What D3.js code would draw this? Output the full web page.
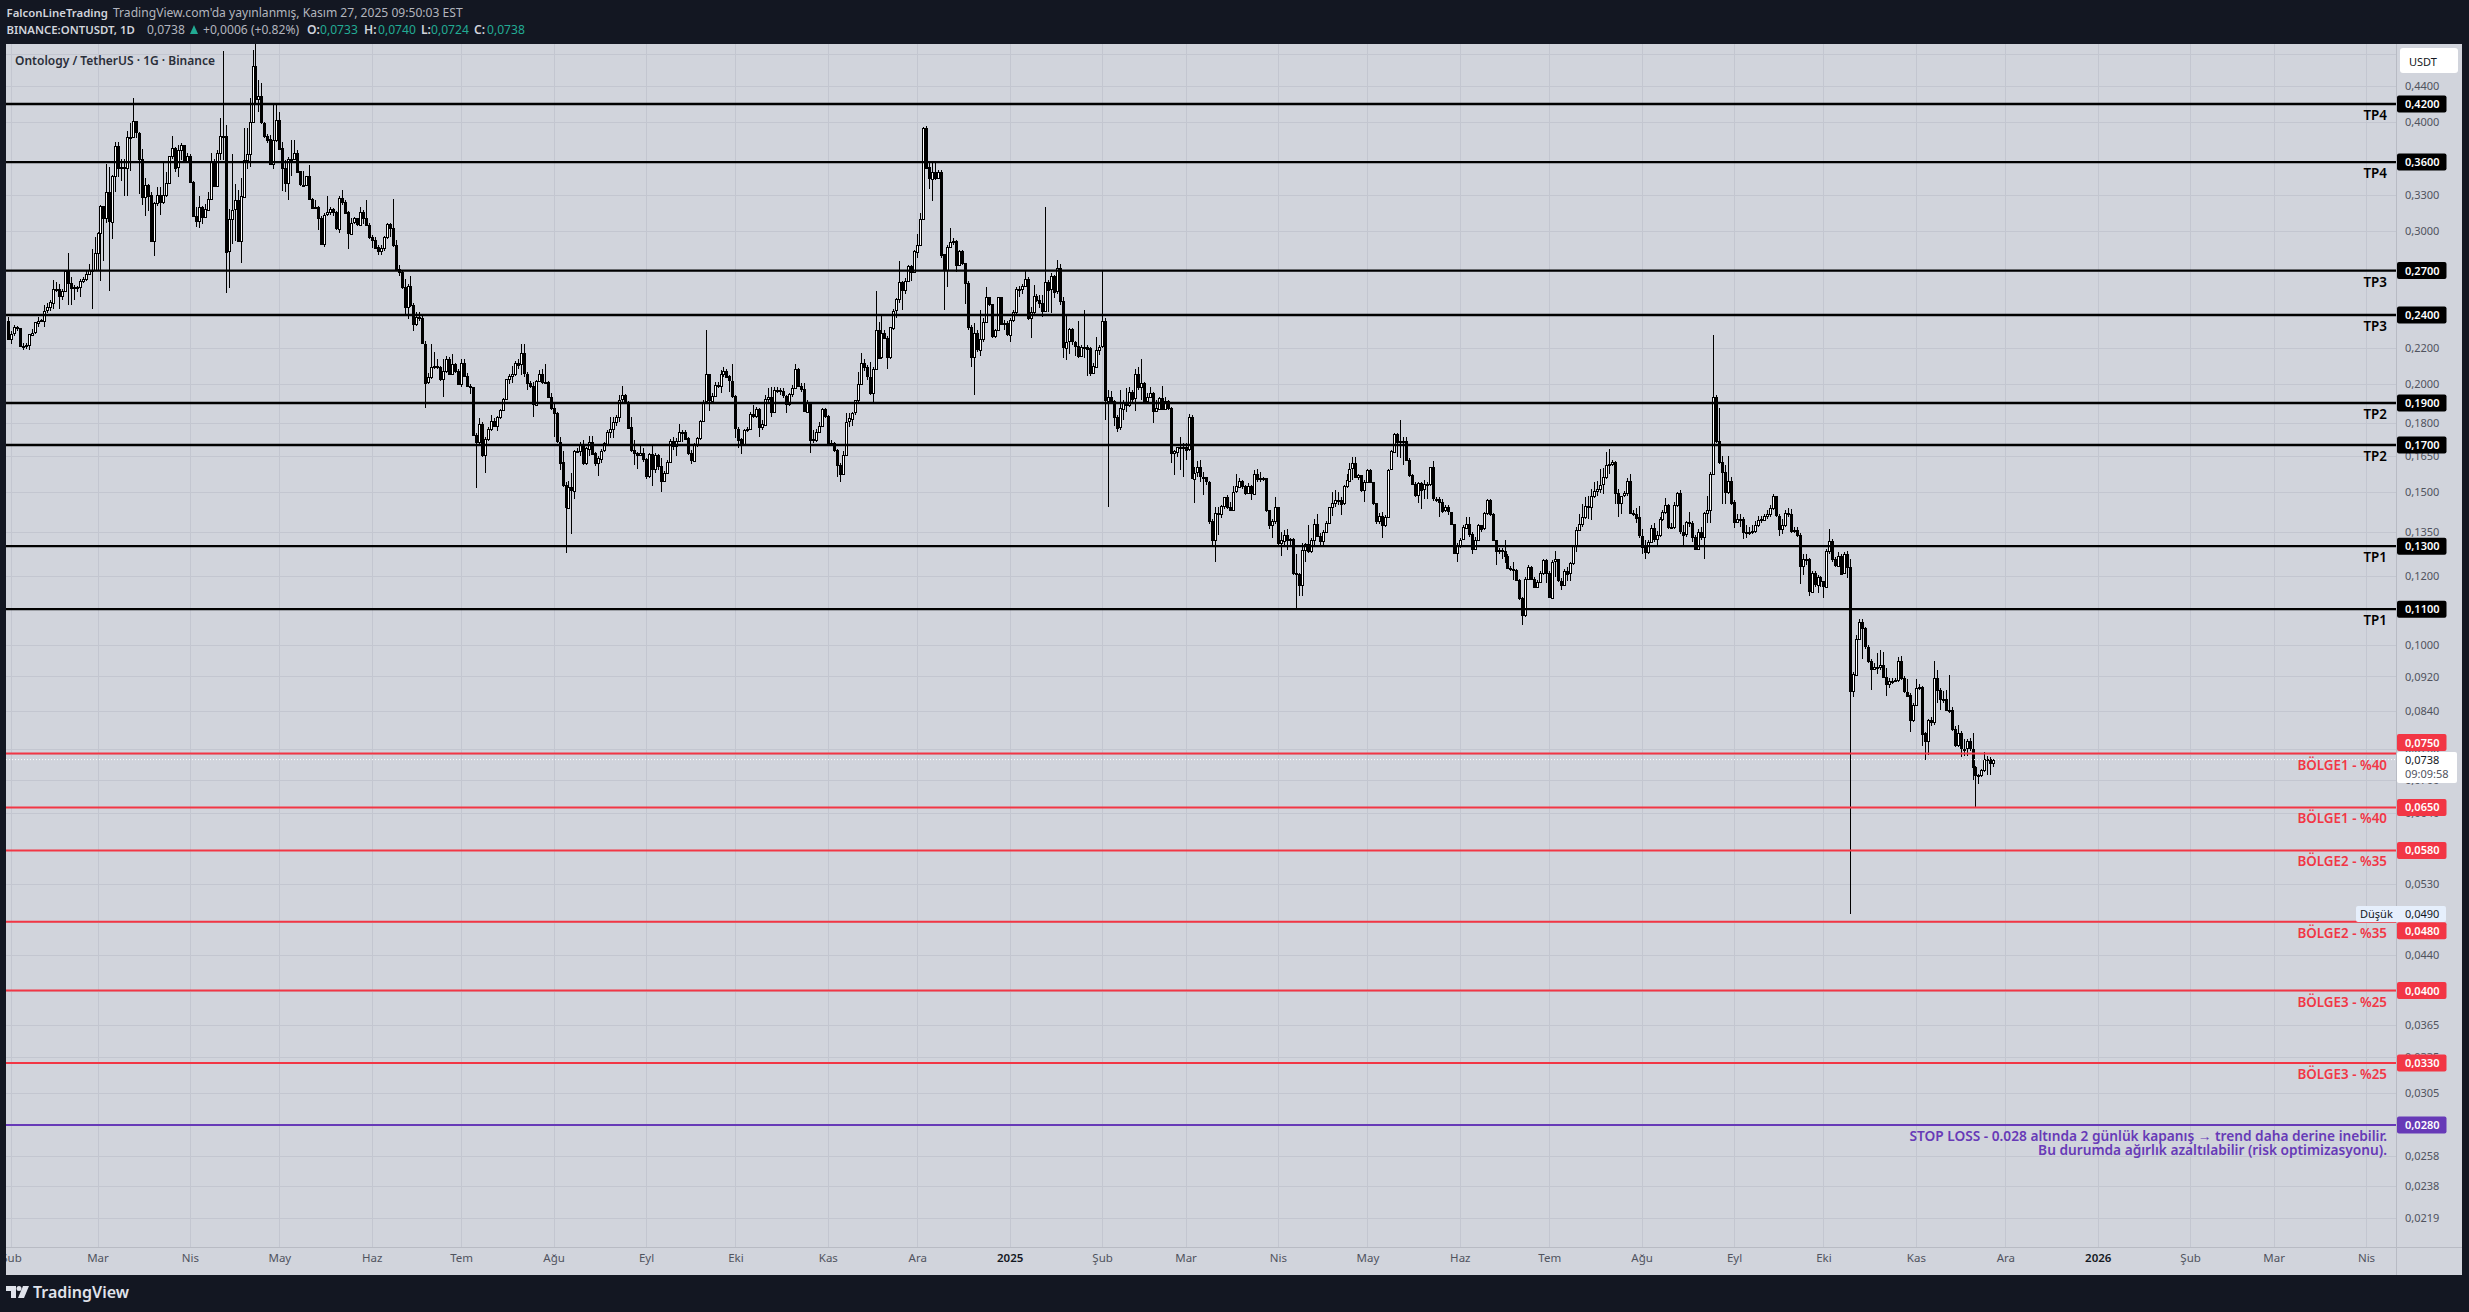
<!DOCTYPE html>
<html>
<head>
<meta charset="utf-8">
<script src="https://cdnjs.cloudflare.com/ajax/libs/d3/7.8.5/d3.min.js"></script>
<style>
  html, body { margin: 0; padding: 0; background: #131722; }
  svg { display: block; }
  text { font-family: "Noto Sans", sans-serif; }
</style>
</head>
<body>
<svg id="chart" width="2469" height="1312"></svg>
<script>
// daily ONT/USDT candles, prices in 0.0001 USDT, first candle is 2024-01-31
const firstOpen = 2365;
const closes = [
2255,2285,2322,2318,2212,2212,2217,2281,2291,2353,
2363,2367,2428,2450,2483,2574,2569,2525,2558,2694,
2610,2578,2582,2582,2624,2640,2677,2707,2699,2827,
2982,3202,3105,3325,3077,3472,3758,3548,3553,3543,
3848,3848,4011,3893,3633,3287,3392,3297,2920,3227,
3297,3237,3297,3407,3658,3738,3548,3713,3763,3603,
3663,3417,3122,3082,3197,3112,3177,3267,3603,3382,
3693,3863,3863,2842,3097,3172,3252,2920,3287,3623,
3678,4003,4640,4255,4285,3998,3863,3826,3583,3818,
4028,3733,3543,3407,3633,3633,3693,3513,3392,3392,
3472,3267,3192,3192,3102,2899,3132,3152,3177,3152,
3020,3277,3242,3152,2982,3067,3102,3052,3157,3107,
3047,2952,2932,2872,2842,2867,2952,3052,3022,2887,
2712,2687,2582,2450,2592,2462,2343,2387,2380,2225,
2007,2034,2090,2097,2090,2025,2070,2135,2053,2110,
2070,2002,2115,2043,1989,1982,1745,1712,1797,1657,
1727,1772,1812,1789,1832,1865,1919,2025,2043,2053,
2115,2103,
2168,2055,2005,1988,1893,2016,2055,2010,2010,1932,
1875,1849,1715,1624,1528,1440,1521,1508,1675,1675,
1700,1620,1685,1715,1663,1620,1642,1675,1708,1761,
1776,1808,1832,1918,1941,1907,1781,1677,1663,1656,
1663,1637,1563,1659,1594,1656,1609,1547,1580,1627,
1719,1697,1719,1761,1761,1730,1663,1631,1700,1730,
1812,1907,2050,1912,1935,1993,1993,2055,2070,2040,
2016,1935,1776,1725,1703,1771,1776,1846,1836,1870,
1781,1797,1923,1932,1857,1967,1967,1960,1937,1895,
1944,1976,2078,1988,1970,1857,1907,1725,1722,1761,
1787,1868,1836,1711,1708,1677,1612,1574,1656,1808,
1824,1852,1914,1999,2112,2088,2037,1952,2079,2307,
2144,2286,2256,2144,2322,2428,2503,2618,2562,2624,
2730,2687,2842,2893,3097,3946,3549,3445,3508,3451,
3508,2818,2701,2873,2912,2917,2737,2842,2752,2612,
2326,2146,2286,2190,2252,2358,2520,2473,2272,2309,
2520,2347,2347,2280,2370,2420,2571,2571,2594,2641,
2380,2420,2526,2500,
2478,2424,2620,2568,2660,2552,2715,2490,2202,2235,
2310,2235,2210,2152,2206,2206,2197,2055,2095,2190,
2206,2360,1912,1932,1912,1832,1780,1873,1907,1890,
1958,1924,2052,1983,2006,1912,1932,1953,1860,1873,
1927,1873,1912,1876,1665,1672,1693,1693,1693,1681,
1829,1556,1579,1602,1563,1560,1542,1390,1320,1418,
1415,1447,1482,1444,1433,1502,1523,1547,1525,1496,
1525,1496,1576,1556,1556,1556,1431,1375,1390,1441,
1310,1320,1340,1322,1325,1210,1208,1173,1288,1307,
1283,1320,1379,1336,1320,1351,1382,1441,1457,1469,
1469,1455,1523,1549,1597,1619,1560,1570,1509,1540,
1590,1540,1457,1390,1410,1375,1406,1592,1672,1752,
1716,1716,1720,1634,1572,1533,1489,1536,1509,1531,
1531,1602,1475,1475,1462,1428,1441,1425,1379,1277,
1305,1322,1366,1379,1342,1290,1322,1375,1362,1418,
1469,1415,1322,1283,1288,1283,1266,1227,1224,1220,
1188,1132,1083,1193,1230,1193,1168,1183,1210,1253,
1210,1135,1248,1255,1186,
1173,1217,1208,1242,1300,1357,1379,1405,1446,1442,
1486,1506,1514,1530,1560,1612,1617,1625,1498,1458,
1486,1495,1545,1421,1417,1403,1337,1300,1280,1316,
1365,1327,1340,1398,1424,1450,1367,1367,1450,1495,
1350,1340,1385,1382,1333,1290,1351,1333,1420,1431,
1576,1931,1719,1625,1584,1501,1547,1461,1386,1396,
1396,1347,1351,1351,1354,1375,1393,1396,1410,1417,
1438,1483,1410,1361,1375,1420,1417,1354,1357,1340,
1233,1255,1255,1152,1210,1174,1198,1184,1168,1284,
1317,1255,1236,1268,1210,1272,1229,885,925,1017,
1063,1045,996,959,940,944,944,949,919,902,
910,910,911,959,916,884,875,819,853,893,
895,791,775,819,815,916,888,866,866,841,
841,800,766,791,760,760,775,760,724,708,
707,717,739,740,733,738
];
const highs = [
2387,2302,2335,2330,2318,2230,2230,2285,2312,2358,
2387,2375,2462,2475,2495,2632,2622,2604,2569,2699,
2827,2652,2602,2592,2640,2652,2699,2744,2860,2952,
2990,3212,3207,3578,3558,3477,3800,3800,3633,3633,
3908,3998,4270,4003,3898,3723,3447,3397,3325,3237,
3367,3367,3603,3507,3663,3863,3748,3763,3783,3768,
3693,3683,3422,3197,3287,3207,3222,3327,3693,3633,
3713,4043,4840,3968,3177,3683,3397,3342,3447,3938,
3938,4268,4850,4925,4480,4440,4008,3880,3873,4190,
4200,4110,3798,3616,3653,3818,3818,3713,3518,3513,
3473,3568,3277,3252,3202,3122,3142,3287,3197,3187,
3165,3287,3342,3252,3165,3107,3112,3107,3192,3167,
3252,3067,2967,2952,2887,2887,2957,3067,3067,3267,
2927,2737,2707,2640,2604,2664,2475,2418,2418,2395,
2242,2060,2221,2173,2135,2097,2135,2155,2145,2163,
2115,2080,2135,2135,2060,1999,1985,1757,1827,1807,
1737,1781,1842,1827,1835,1872,1925,2027,2053,2097,
2125,2135,
2220,2220,2065,2016,2010,2020,2075,2078,2110,2016,
1952,1895,1857,1737,1672,1540,1547,1578,1677,1685,
1715,1722,1692,1741,1741,1670,1650,1682,1715,1768,
1832,1832,1840,1941,1988,1945,1912,1829,1722,1670,
1700,1685,1642,1663,1700,1663,1660,1642,1585,1634,
1725,1737,1730,1797,1771,1771,1737,1677,1708,1735,
1818,1917,2307,2055,1949,2010,2010,2075,2088,2078,
2045,2105,1941,1784,1730,1776,1784,1857,1890,1880,
1875,1816,1941,1976,1983,1985,1983,1976,1976,1941,
1952,1993,2110,2085,2002,2002,1917,1907,1768,1776,
1808,1875,1875,1840,1722,1715,1682,1620,1675,1849,
1849,1857,1918,2065,2170,2135,2100,2120,2090,2555,
2358,2395,2305,2270,2326,2437,2510,2770,2625,2648,
2742,2742,2855,2977,3145,3954,3962,3612,3587,3594,
3525,3525,2825,2890,3025,2940,2927,2855,2850,2752,
2625,2337,2347,2305,2433,2380,2582,2515,2470,2315,
2515,2515,2368,2362,2380,2433,2582,2594,2606,2695,
2655,2452,2600,2540,
2530,2530,3196,2634,2685,2672,2778,2745,2519,2395,
2316,2316,2240,2360,2216,2430,2216,2206,2111,2266,
2216,2695,2380,1965,1962,1915,1840,1965,1915,1980,
1983,1965,2080,2092,2135,2010,1950,1983,1958,1915,
1932,1987,1932,1915,1882,1678,1693,1736,1708,1708,
1845,1840,1605,1628,1634,1583,1556,1547,1397,1444,
1444,1451,1482,1489,1462,1523,1573,1556,1549,1527,
1536,1527,1590,1597,1583,1563,1556,1431,1397,1482,
1444,1351,1357,1360,1327,1327,1272,1210,1312,1312,
1375,1327,1397,1415,1345,1357,1390,1444,1502,1509,
1502,1482,1527,1576,1619,1648,1648,1576,1570,1549,
1597,1597,1542,1457,1418,1425,1412,1597,1678,1755,
1755,1815,1736,1736,1641,1576,1542,1542,1542,1549,
1542,1605,1628,1482,1482,1475,1451,1451,1410,1379,
1310,1327,1375,1403,1403,1351,1332,1379,1375,1425,
1475,1475,1418,1322,1293,1293,1322,1272,1232,1248,
1222,1193,1137,1199,1237,1232,1199,1188,1216,1258,
1258,1216,1253,1283,1258,
1195,1223,1229,1248,1305,1367,1417,1453,1480,1483,
1514,1542,1545,1595,1600,1668,1680,1633,1628,1514,
1468,1506,1557,1573,1431,1438,1446,1361,1320,1320,
1375,1382,1354,1403,1431,1476,1453,1382,1461,1501,
1509,1375,1389,1424,1389,1340,1361,1367,1424,1486,
1584,2273,1941,1877,1650,1612,1650,1560,1468,1417,
1417,1403,1375,1367,1375,1389,1410,1410,1417,1431,
1450,1491,1486,1417,1396,1431,1438,1435,1367,1367,
1347,1274,1274,1261,1217,1217,1204,1200,1186,1290,
1361,1325,1264,1280,1274,1280,1284,1258,930,1028,
1072,1072,1050,1000,963,954,978,986,983,940,
916,916,916,969,971,921,914,880,857,914,
902,898,795,823,827,959,937,893,886,888,
923,849,806,810,796,779,779,781,791,726,
711,719,753,745,744,740
];
const lows = [
2251,2221,2270,2302,2205,2188,2195,2188,2270,2285,
2322,2353,2322,2410,2428,2439,2550,2439,2495,2557,
2462,2462,2500,2550,2517,2610,2624,2677,2439,2699,
2699,2624,2772,3067,2558,2937,3325,3458,3428,3293,
3293,3513,3848,3833,3306,3212,3122,3165,2912,2807,
3207,3132,3222,3282,3397,3633,3508,3458,3616,3588,
3588,3403,3112,3032,3022,3057,3107,3165,3252,3367,
3368,3616,3616,2542,2578,2899,2920,2912,2757,3282,
3538,3553,3990,4190,4110,3985,3833,3790,3568,3538,
3798,3718,3332,3322,3257,3473,3616,3503,3378,3367,
3378,3257,3177,3177,3005,2887,2877,3122,3132,3122,
3007,2982,3217,3137,2857,2982,3057,3037,3037,3052,
3037,2937,2867,2862,2817,2817,2847,2937,2952,2877,
2699,2662,2570,2405,2375,2450,2300,2330,2363,2221,
1874,1999,2025,2080,2080,2017,1932,2060,2047,2050,
2060,1995,1982,2034,1982,1945,1739,1517,1704,1647,
1577,1719,1765,1781,1765,1822,1862,1915,2000,2005,
2043,2080,
2045,2037,1967,1976,1829,1890,2010,1997,1999,1928,
1865,1737,1708,1590,1521,1277,1438,1342,1474,1663,
1650,1612,1612,1650,1656,1606,1566,1620,1667,1700,
1730,1730,1790,1808,1897,1897,1776,1670,1612,1594,
1650,1627,1552,1556,1525,1577,1590,1501,1540,1577,
1620,1677,1650,1715,1715,1722,1656,1617,1627,1692,
1722,1808,1897,1860,1907,1932,1976,1949,2037,2032,
1958,1928,1730,1685,1660,1700,1760,1771,1824,1824,
1735,1768,1790,1907,1832,1857,1949,1941,1928,1852,
1885,1932,1976,1983,1958,1857,1849,1663,1708,1715,
1753,1781,1824,1705,1700,1670,1563,1540,1570,1650,
1784,1790,1840,1907,1993,2070,2020,1941,1907,2079,
2138,2138,2256,2079,2138,2307,2380,2480,2433,2537,
2620,2625,2682,2795,2940,3095,3540,3355,3250,3435,
3445,2795,2435,2585,2870,2890,2687,2730,2737,2473,
2307,2088,1941,2175,2155,2235,2347,2460,2256,2256,
2305,2337,2305,2270,2235,2358,2408,2515,2540,2582,
2368,2256,2408,2485,
2445,2390,2420,2420,2415,2508,2540,2465,2140,2130,
2165,2216,2150,2140,2185,2140,2040,2042,2052,2092,
2158,2197,1815,1441,1898,1788,1760,1769,1815,1856,
1882,1898,1862,1965,1915,1898,1907,1924,1803,1856,
1865,1865,1882,1865,1622,1570,1648,1590,1560,1634,
1672,1556,1457,1563,1542,1489,1527,1379,1305,1245,
1340,1400,1436,1433,1428,1431,1496,1516,1512,1489,
1502,1471,1523,1542,1542,1547,1425,1360,1327,1379,
1305,1266,1298,1288,1305,1205,1102,1140,1140,1248,
1277,1277,1305,1332,1305,1305,1345,1379,1410,1444,
1451,1412,1451,1516,1542,1549,1556,1549,1502,1462,
1536,1536,1451,1379,1379,1327,1368,1400,1590,1665,
1648,1641,1611,1628,1563,1527,1482,1457,1436,1475,
1475,1523,1467,1462,1406,1418,1425,1412,1375,1272,
1245,1293,1320,1362,1332,1272,1288,1320,1351,1357,
1412,1410,1320,1237,1272,1258,1242,1222,1216,1188,
1186,1127,1054,1078,1188,1188,1166,1163,1178,1205,
1178,1132,1137,1199,1183,
1158,1174,1184,1184,1236,1280,1354,1367,1396,1396,
1393,1476,1486,1498,1491,1552,1576,1609,1453,1403,
1417,1480,1483,1417,1410,1382,1330,1274,1255,1272,
1313,1316,1300,1333,1389,1417,1361,1361,1361,1442,
1344,1300,1333,1367,1316,1290,1286,1320,1258,1382,
1382,1568,1710,1617,1453,1453,1491,1450,1365,1382,
1367,1325,1327,1340,1344,1347,1367,1382,1389,1396,
1403,1431,1403,1337,1344,1367,1403,1347,1347,1333,
1176,1204,1236,1138,1152,1168,1147,1168,1132,1162,
1274,1248,1229,1236,1208,1210,1195,490,871,921,
1013,963,990,954,888,937,925,935,916,873,
893,902,906,906,911,880,871,795,815,853,
888,766,738,747,806,810,857,841,857,840,
835,796,764,764,744,745,745,756,700,650,
692,704,715,708,708,724
];

const levels = [4200,3600,2700,2400,1900,1700,1300,1100,750,650,580,480,400,330,280];
const levelNotes = ["TP4","TP4","TP3","TP3","TP2","TP2","TP1","TP1",
  "BÖLGE1 - %40","BÖLGE1 - %40","BÖLGE2 - %35","BÖLGE2 - %35","BÖLGE3 - %25","BÖLGE3 - %25",""];
const stopNote = ["STOP LOSS - 0.028 altında 2 günlük kapanış → trend daha derine inebilir.",
  "Bu durumda ağırlık azaltılabilir (risk optimizasyonu)."];

const priceTicks = [4800,4400,4000,3300,3000,2200,2000,1800,1650,1500,1350,1200,1000,920,840,760,700,640,530,440,365,335,305,258,238,219];
const monthDates = ["2024-02-01","2024-03-01","2024-04-01","2024-05-01","2024-06-01","2024-07-01","2024-08-01","2024-09-01","2024-10-01","2024-11-01","2024-12-01",
  "2025-01-01","2025-02-01","2025-03-01","2025-04-01","2025-05-01","2025-06-01","2025-07-01","2025-08-01","2025-09-01","2025-10-01","2025-11-01","2025-12-01",
  "2026-01-01","2026-02-01","2026-03-01","2026-04-01"];
const monthLabels = ["Şub","Mar","Nis","May","Haz","Tem","Ağu","Eyl","Eki","Kas","Ara",
  "2025","Şub","Mar","Nis","May","Haz","Tem","Ağu","Eyl","Eki","Kas","Ara",
  "2026","Şub","Mar","Nis"];

const BG = "#d1d4dc", DARK = "#131722", RED = "#f23645", PURPLE = "#673ab7", TEAL = "#22ab94";
const paneL = 6, paneR = 2396, paneT = 44, paneB = 1247, frameR = 2462, frameB = 1275;

const y = d3.scaleLog().domain([4200, 280]).range([104, 1125]);
const x = d3.scaleUtc().domain([new Date("2024-03-01"), new Date("2026-04-01")]).range([97.5, 2366]);
const startDay = new Date("2024-01-31");
const fmt = v => d3.format(".4f")(v / 10000).replace(".", ",");

const svg = d3.select("#chart");
svg.append("rect").attr("width", 2469).attr("height", 1312).attr("fill", DARK);
svg.append("rect").attr("x", paneL).attr("y", paneT).attr("width", frameR - paneL).attr("height", frameB - paneT).attr("fill", BG);
svg.append("defs").append("clipPath").attr("id", "pane").append("rect")
  .attr("x", paneL).attr("y", paneT).attr("width", paneR - paneL).attr("height", paneB - paneT);

// grid
const grid = svg.append("g").attr("shape-rendering", "crispEdges").attr("clip-path", "url(#pane)");
const gridTicks = priceTicks.concat(levels);
grid.selectAll(".h").data(gridTicks).join("line")
  .attr("x1", paneL).attr("x2", paneR)
  .attr("y1", d => Math.round(y(d)) + .5).attr("y2", d => Math.round(y(d)) + .5)
  .attr("stroke", "#c3c6d0");
grid.selectAll(".v").data(monthDates).join("line")
  .attr("x1", d => Math.round(x(new Date(d))) + .5).attr("x2", d => Math.round(x(new Date(d))) + .5)
  .attr("y1", paneT).attr("y2", paneB)
  .attr("stroke", "#c3c6d0");

// candles
const candles = closes.map((c, i) => ({
  x: Math.round(x(d3.utcDay.offset(startDay, i))),
  o: i ? closes[i - 1] : firstOpen, c, h: highs[i], l: lows[i]
}));
const plot = svg.append("g").attr("clip-path", "url(#pane)").attr("shape-rendering", "crispEdges");
plot.selectAll(".wick").data(candles).join("line")
  .attr("x1", d => d.x + .5).attr("x2", d => d.x + .5)
  .attr("y1", d => y(d.h)).attr("y2", d => y(d.l))
  .attr("stroke", "#000");
plot.selectAll(".body").data(candles).join("rect")
  .attr("x", d => d.x - .5).attr("width", 2)
  .attr("y", d => Math.round(y(Math.max(d.o, d.c))) + .5)
  .attr("height", d => Math.max(1, Math.round(Math.abs(y(d.o) - y(d.c)))))
  .attr("fill", d => d.c >= d.o ? "#fff" : "#000")
  .attr("stroke", "#000");

// last price dotted line
svg.append("line").attr("x1", paneL).attr("x2", paneR)
  .attr("y1", y(738)).attr("y2", y(738))
  .attr("stroke", "#fff").attr("stroke-dasharray", "1 2");

// drawn levels
const levelColor = d => d >= 1100 ? "#000" : d >= 330 ? RED : PURPLE;
svg.selectAll(".level").data(levels).join("line")
  .attr("x1", paneL).attr("x2", paneR)
  .attr("y1", d => y(d)).attr("y2", d => y(d))
  .attr("stroke", levelColor).attr("stroke-width", d => d >= 1100 ? 2.4 : 2);

svg.selectAll(".note").data(levels).join("text")
  .attr("x", 2387).attr("y", d => y(d) + 16)
  .attr("text-anchor", "end").attr("font-size", 13.4).attr("font-weight", 600)
  .attr("fill", levelColor)
  .text((d, i) => levelNotes[i]);
svg.selectAll(".stop").data(stopNote).join("text")
  .attr("x", 2387).attr("y", (d, i) => y(280) + 16 + i * 14)
  .attr("text-anchor", "end").attr("font-size", 13.7).attr("font-weight", 600)
  .attr("fill", PURPLE).text(d => d);

// price axis
svg.append("line").attr("x1", paneR + .5).attr("x2", paneR + .5).attr("y1", paneT).attr("y2", frameB).attr("stroke", "#b8bbc4");
const yAxis = d3.axisRight(y).tickValues(priceTicks).tickSize(0).tickPadding(0).tickFormat(fmt);
const yG = svg.append("g").attr("transform", `translate(2405,0)`).call(yAxis);
yG.select(".domain").remove();
yG.selectAll("text").attr("font-family", '"Noto Sans", sans-serif').attr("font-size", 11).attr("fill", "#50535e");

// level price tags, two of them sit off their line so they clear the last price and low tags
const tagShift = d => d === 750 ? -11 : d === 480 ? 9 : 0;
const tags = svg.selectAll(".tag").data(levels).join("g").attr("transform", d => `translate(2397,${y(d) + tagShift(d)})`);
tags.append("rect").attr("x", 0).attr("y", -8.5).attr("width", 49.5).attr("height", 17).attr("rx", 2).attr("fill", levelColor);
tags.append("text").attr("x", 8).attr("y", 4).attr("font-size", 11).attr("font-weight", 600).attr("fill", "#fff").text(fmt);

// current price tag
svg.append("rect").attr("x", 2397).attr("y", 752).attr("width", 60).attr("height", 31).attr("rx", 2).attr("fill", "#fff");
svg.append("text").attr("x", 2405).attr("y", 764).attr("font-size", 11).attr("fill", "#131722").text(fmt(738));
svg.append("text").attr("x", 2405).attr("y", 778).attr("font-size", 11).attr("fill", "#50535e").text("09:09:58");

// low tag
svg.append("rect").attr("x", 2356).attr("y", 906).attr("width", 90).attr("height", 16).attr("rx", 2).attr("fill", "#e6effc");
svg.append("text").attr("x", 2360).attr("y", 918).attr("font-size", 11).attr("fill", "#131722").text("Düşük");
svg.append("text").attr("x", 2405).attr("y", 918).attr("font-size", 11).attr("fill", "#131722").text(fmt(490));

// USDT button
svg.append("rect").attr("x", 2400).attr("y", 48).attr("width", 58).attr("height", 25).attr("rx", 3).attr("fill", "#fff");
svg.append("text").attr("x", 2409).attr("y", 66).attr("font-size", 11).attr("fill", "#131722").text("USDT");

// time axis
svg.append("line").attr("x1", paneL).attr("x2", frameR).attr("y1", paneB + .5).attr("y2", paneB + .5).attr("stroke", "#b8bbc4");
const xAxis = d3.axisBottom(x).tickValues(monthDates.map(d => new Date(d))).tickSize(0).tickPadding(0)
  .tickFormat((d, i) => monthLabels[i]);
const xG = svg.append("g").attr("transform", `translate(0,${paneB + 7})`).attr("clip-path", null).call(xAxis);
xG.select(".domain").remove();
xG.selectAll("text").attr("font-family", '"Noto Sans", sans-serif').attr("font-size", 11.5)
  .attr("fill", (d, i) => /^\d/.test(monthLabels[i]) ? "#131722" : "#50535e")
  .attr("font-weight", (d, i) => /^\d/.test(monthLabels[i]) ? 600 : 400);
// the first month label is cut by the frame
svg.append("rect").attr("x", 0).attr("y", paneB + 1).attr("width", paneL).attr("height", frameB - paneB - 1).attr("fill", DARK);

// header
const head = svg.append("g").attr("font-size", 12.1).attr("fill", "#d1d4dc");
head.append("text").attr("x", 6.5).attr("y", 17).attr("font-size", 11.4).attr("font-weight", 600).text("FalconLineTrading");
head.append("text").attr("x", 113).attr("y", 17).attr("fill", "#b2b5be").text("TradingView.com'da yayınlanmış, Kasım 27, 2025 09:50:03 EST");
head.append("text").attr("x", 6.5).attr("y", 34).attr("font-size", 11.4).attr("font-weight", 600).text("BINANCE:ONTUSDT, 1D");
head.append("text").attr("x", 147).attr("y", 34).attr("fill", "#b2b5be").text(fmt(738));
head.append("path").attr("d", "M190 34 L198 34 L194 25 Z").attr("fill", TEAL);
head.append("text").attr("x", 203).attr("y", 34).attr("fill", "#b2b5be").text("+0,0006 (+0.82%)");
const ohlcKeys = ["O:", "H:", "L:", "C:"], ohlcVals = [733, 740, 724, 738], ohlcX = [307, 364, 421, 474], ohlcValX = [320, 378, 431, 487];
ohlcKeys.forEach((k, i) => {
  head.append("text").attr("x", ohlcX[i]).attr("y", 34).attr("font-weight", 600).text(k);
  head.append("text").attr("x", ohlcValX[i]).attr("y", 34).attr("fill", TEAL).text(fmt(ohlcVals[i]));
});

// chart title
svg.append("text").attr("x", 15).attr("y", 65).attr("font-size", 12).attr("font-weight", 600).attr("fill", "#2a2e39")
  .text("Ontology / TetherUS · 1G · Binance");

// TradingView mark
const logo = svg.append("g").attr("transform", "translate(6,1286)").attr("fill", "#e0e3eb");
logo.append("path").attr("d", "M0 0 H10 V12 H5 V5 H0 Z");
logo.append("circle").attr("cx", 13).attr("cy", 2.5).attr("r", 2.5);
logo.append("path").attr("d", "M17 0 H23 L18 12 H12 Z");
svg.append("text").attr("x", 33).attr("y", 1298).attr("font-size", 16).attr("font-weight", 600).attr("fill", "#e0e3eb").text("TradingView");
</script>
</body>
</html>
